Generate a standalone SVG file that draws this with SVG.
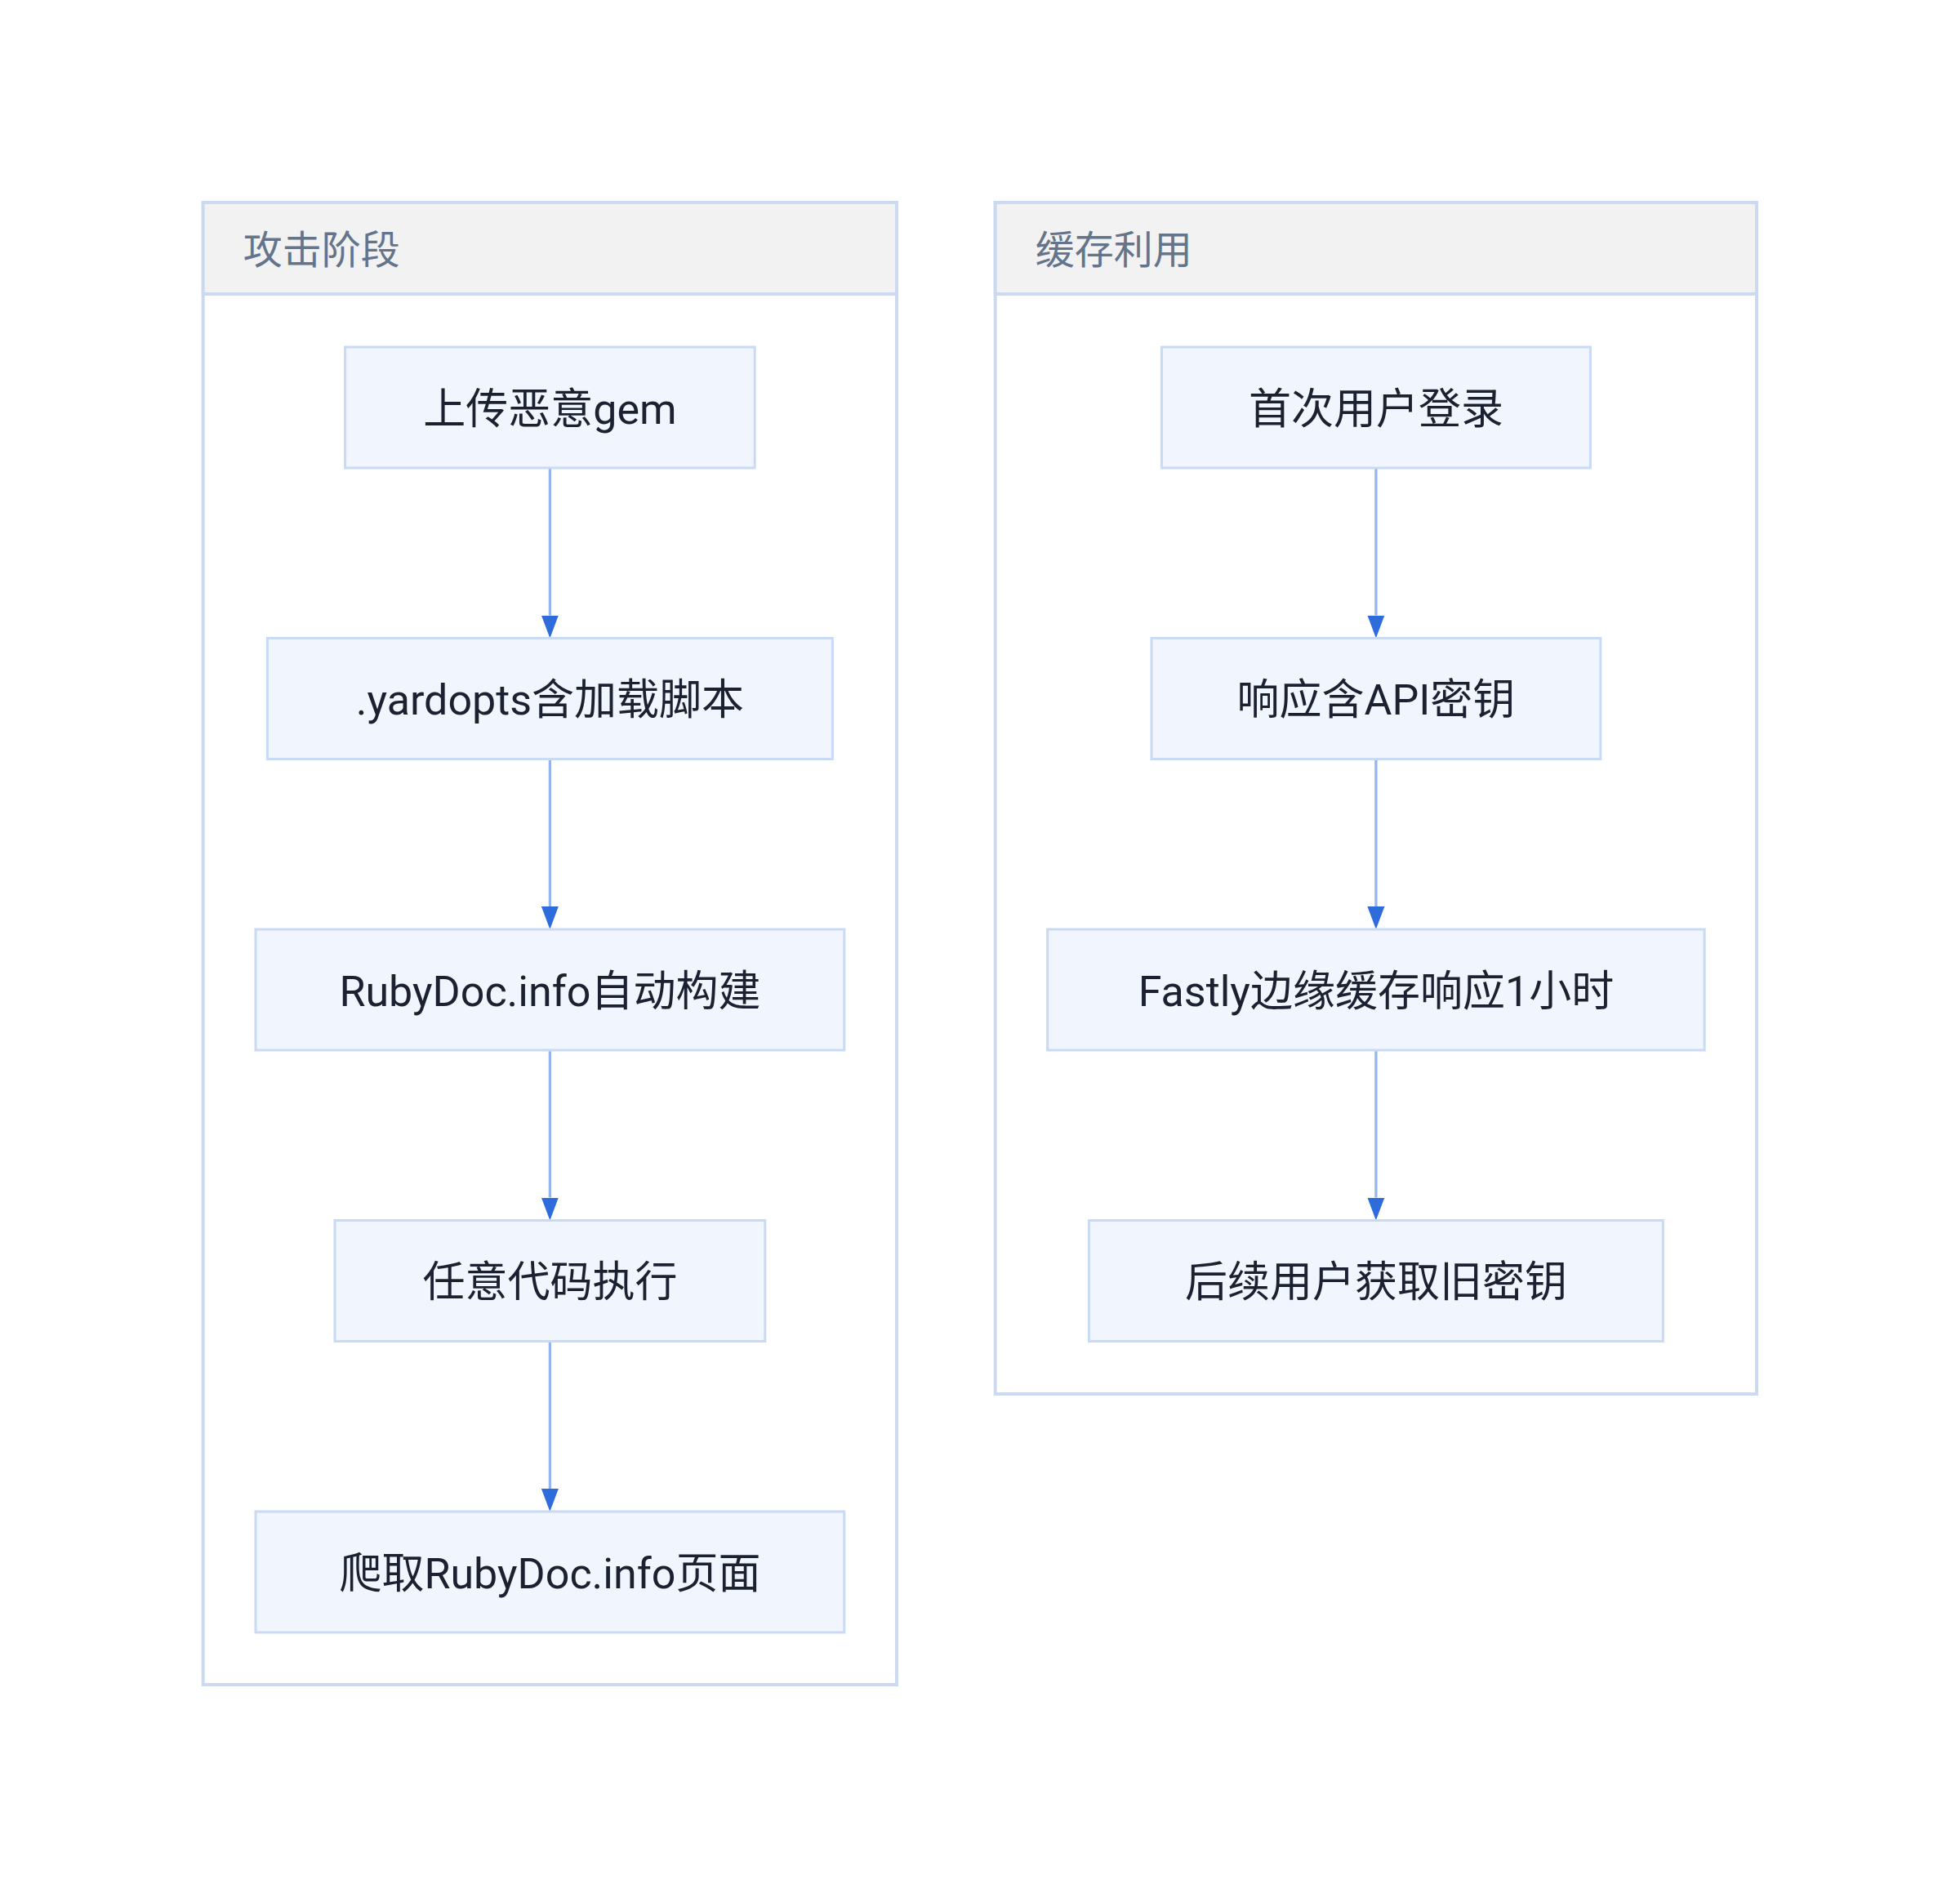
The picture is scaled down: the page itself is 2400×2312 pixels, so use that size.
<svg xmlns="http://www.w3.org/2000/svg" width="2400" height="2312" viewBox="0 0 2400 2312">
<defs>
<style>
.cluster-body{fill:#ffffff;stroke:#cbdaf2;stroke-width:4}
.cluster-head{fill:#f2f2f2;stroke:#cbdaf2;stroke-width:4}
.ctitle{font-family:Roboto,"Noto Sans CJK SC",sans-serif;font-size:48px;fill:#64748b;dominant-baseline:central}
.node rect{fill:#f0f5fe;stroke:#c9daf4;stroke-width:3}
.node text{font-family:Roboto,"Noto Sans CJK SC",sans-serif;font-size:52px;fill:#1b2130;text-anchor:middle;dominant-baseline:central}
.edge{stroke:#94b5ee;stroke-width:3.3;fill:none}
</style>
<marker id="arrow" markerWidth="22" markerHeight="29" refX="10.5" refY="0" orient="0" markerUnits="userSpaceOnUse" viewBox="0 0 22 29">
<path d="M0,0 L21,0 L10.5,28 Z" fill="#2e6bdb"/>
</marker>
</defs>
<rect width="2400" height="2312" fill="#ffffff"/>

<g id="cluster-attack">
<rect class="cluster-body" x="248.7" y="248" width="849.3" height="1815"/>
<rect class="cluster-head" x="248.7" y="248" width="849.3" height="112"/>
<text class="ctitle" x="297.7" y="306">攻击阶段</text>
</g>
<g id="cluster-cache">
<rect class="cluster-body" x="1218.7" y="248" width="932.3" height="1459"/>
<rect class="cluster-head" x="1218.7" y="248" width="932.3" height="112"/>
<text class="ctitle" x="1267.7" y="306">缓存利用</text>
</g>

<g id="edges">
<line class="edge" x1="673.4" y1="573" x2="673.4" y2="753.5" marker-end="url(#arrow)"/>
<line class="edge" x1="673.4" y1="929.5" x2="673.4" y2="1110" marker-end="url(#arrow)"/>
<line class="edge" x1="673.4" y1="1286" x2="673.4" y2="1466.5" marker-end="url(#arrow)"/>
<line class="edge" x1="673.4" y1="1642.5" x2="673.4" y2="1823" marker-end="url(#arrow)"/>
<line class="edge" x1="1684.9" y1="573" x2="1684.9" y2="753.5" marker-end="url(#arrow)"/>
<line class="edge" x1="1684.9" y1="929.5" x2="1684.9" y2="1110" marker-end="url(#arrow)"/>
<line class="edge" x1="1684.9" y1="1286" x2="1684.9" y2="1466.5" marker-end="url(#arrow)"/>
</g>

<g id="A1" class="node"><rect x="422.6" y="425" width="501.6" height="148"/><text x="673.4" y="501">上传恶意gem</text></g>
<g id="A2" class="node"><rect x="327.4" y="781.5" width="692" height="148"/><text x="673.4" y="857.5">.yardopts含加载脚本</text></g>
<g id="A3" class="node"><rect x="313" y="1138" width="720.8" height="148"/><text x="673.4" y="1214">RubyDoc.info自动构建</text></g>
<g id="A4" class="node"><rect x="410" y="1494.5" width="526.8" height="148"/><text x="673.4" y="1570.5">任意代码执行</text></g>
<g id="A5" class="node"><rect x="313" y="1851" width="720.8" height="148"/><text x="673.4" y="1927">爬取RubyDoc.info页面</text></g>

<g id="B1" class="node"><rect x="1422.4" y="425" width="525" height="148"/><text x="1684.9" y="501">首次用户登录</text></g>
<g id="B2" class="node"><rect x="1410" y="781.5" width="549.8" height="148"/><text x="1684.9" y="857.5">响应含API密钥</text></g>
<g id="B3" class="node"><rect x="1282.7" y="1138" width="804.4" height="148"/><text x="1684.9" y="1214">Fastly边缘缓存响应1小时</text></g>
<g id="B4" class="node"><rect x="1333.5" y="1494.5" width="702.8" height="148"/><text x="1684.9" y="1570.5">后续用户获取旧密钥</text></g>
</svg>
